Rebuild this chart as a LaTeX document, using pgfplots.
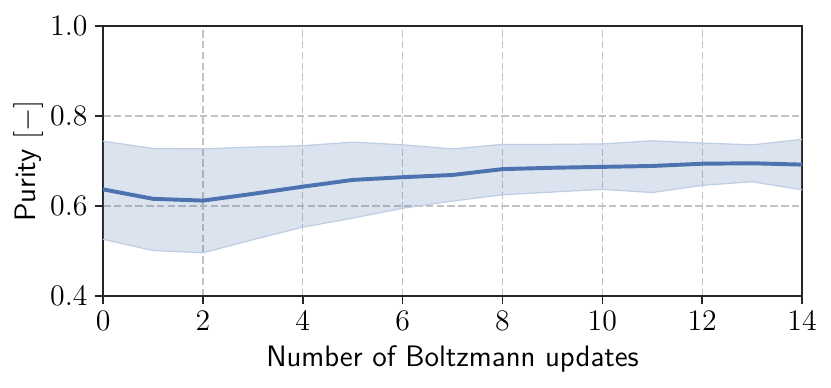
\documentclass[border=0pt]{standalone}
\usepackage{pgfplots}
\pgfplotsset{compat=1.18}
\usepgfplotslibrary{fillbetween}

\definecolor{sbblue}{HTML}{4C72B0}
\definecolor{gridgray}{HTML}{C2C2C2}
\definecolor{axisdark}{HTML}{262626}

\begin{document}
\begin{tikzpicture}
\begin{axis}[
    scale only axis,
    width=337.7pt, height=130.4pt,
    xmin=0, xmax=14,
    ymin=0.4, ymax=1.0,
    xtick={0,2,...,14},
    ytick={0.4,0.6,0.8,1.0},
    yticklabel style={/pgf/number format/fixed,/pgf/number format/fixed zerofill,/pgf/number format/precision=1},
    tick label style={font=\fontsize{13.5}{15}\selectfont},
    label style={font=\fontsize{14.3}{16}\selectfont\sffamily},
    xlabel={Number of Boltzmann updates},
    ylabel={Purity $[-]$},
    xlabel style={at={(axis description cs:0.5,-0.232)}, anchor=center},
    ylabel style={at={(axis description cs:-0.107,0.5)}, anchor=center},
    grid=major,
    major grid style={gridgray, dash pattern=on 3.6pt off 1.6pt, line width=0.6pt},
    axis line style={axisdark, line width=0.8pt},
    tick style={axisdark, line width=0.8pt},
    tick pos=left,
    tick align=outside,
    major tick length=4pt,
]
\addplot[name path=upper, sbblue!35, line width=0.6pt] coordinates {
    (0,0.744) (1,0.728) (2,0.727) (3,0.731) (4,0.734) (5,0.742) (6,0.736)
    (7,0.727) (8,0.737) (9,0.737) (10,0.738) (11,0.745) (12,0.740) (13,0.736) (14,0.748)
};
\addplot[name path=lower, sbblue!35, line width=0.6pt] coordinates {
    (0,0.526) (1,0.501) (2,0.496) (3,0.525) (4,0.553) (5,0.573) (6,0.595)
    (7,0.611) (8,0.625) (9,0.631) (10,0.637) (11,0.630) (12,0.646) (13,0.654) (14,0.636)
};
\addplot[sbblue, fill opacity=0.2, draw=none] fill between[of=upper and lower];
\addplot[sbblue, line width=1.9pt] coordinates {
    (0,0.637) (1,0.616) (2,0.612) (3,0.627) (4,0.643) (5,0.658) (6,0.664)
    (7,0.669) (8,0.682) (9,0.685) (10,0.687) (11,0.689) (12,0.694) (13,0.695) (14,0.692)
};
\end{axis}
% fixed page: axis box plus the margins of the reference
\path (-49.8pt,-44pt) rectangle (351.7pt,143pt);
\end{tikzpicture}
\end{document}
